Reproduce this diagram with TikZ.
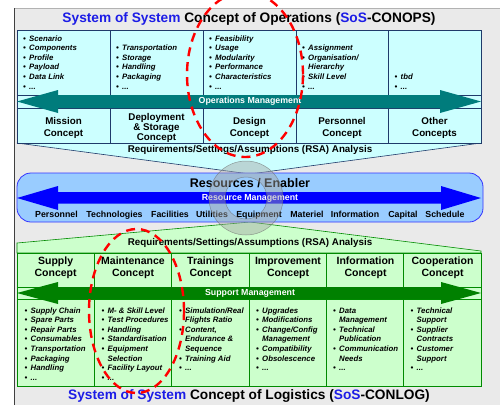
\documentclass[tikz,border=0pt]{standalone}
\usepackage{fontspec}
\setmainfont{Liberation Sans}
\usetikzlibrary{shapes.geometric}
\definecolor{bgray}{HTML}{EAEAEA}
\definecolor{cyanfill}{HTML}{CCFFFF}
\definecolor{navyline}{HTML}{1F3A6A}
\definecolor{opteal}{HTML}{007C7C}
\definecolor{resfill}{HTML}{99CCFF}
\definecolor{resblue}{HTML}{0000FF}
\definecolor{resedge}{HTML}{3333FF}
\definecolor{greenfill}{HTML}{CCFFCC}
\definecolor{greenline}{HTML}{008A00}
\definecolor{suparrow}{HTML}{008000}
\definecolor{titleblue}{HTML}{1C1CE6}
\newcommand\bb{\makebox[6pt][l]{\textbullet}}
\newcommand\cc{\hspace*{6pt}}
\tikzset{
  ttl/.style={font=\fontsize{13.7}{16}\selectfont\bfseries, inner sep=0pt},
  rsa/.style={font=\fontsize{9.8}{11}\selectfont\bfseries, inner sep=0pt},
  hdr/.style={font=\fontsize{9.8}{11.8}\selectfont\bfseries, align=center, inner sep=0pt},
  lhdr/.style={font=\fontsize{10.5}{12.3}\selectfont\bfseries, align=center, inner sep=0pt},
  bul/.style={font=\fontsize{7.8}{9.6}\selectfont\bfseries\itshape, inner sep=0pt},
  mgmt/.style={font=\fontsize{8.8}{10}\selectfont\bfseries, text=white, inner sep=0pt},
  item/.style={font=\fontsize{8.8}{10}\selectfont\bfseries, inner sep=0pt, anchor=base},
  reddash/.style={draw=red, line width=2.4pt, dash pattern=on 9pt off 6pt}
}
\begin{document}
\begin{tikzpicture}[x=1pt,y=-1pt]
\useasboundingbox (0,0) rectangle (500,405);
\fill[white] (0,0) rectangle (500,405);
\fill[bgray] (14,8) rectangle (500,405);
\draw[gray!60, line width=0.6pt] (14,8) -- (500,8);
\draw[gray!50!black, line width=0.9pt] (14,405) -- (14,8);

% titles
\node[ttl] (ttop) at (249,19) {\textcolor{titleblue}{System of System} Concept of Operations (\textcolor{titleblue}{SoS}-CONOPS)};
\node[ttl] (tbot) at (249,396) {\textcolor{titleblue}{System of System} Concept of Logistics (\textcolor{titleblue}{SoS}-CONLOG)};

% funnels
\filldraw[fill=cyanfill, draw=navyline, line width=0.6pt] (17,143) -- (250,174) -- (481,143) -- cycle;
\filldraw[fill=greenfill, draw=greenline, line width=0.6pt] (17,253) -- (17,243) -- (250,222) -- (481,251) -- (481,253) -- cycle;
\node[rsa] (rsatop) at (250,150) {Requirements/Settings/Assumptions (RSA) Analysis};
\node[rsa] (rsabot) at (250,243) {Requirements/Settings/Assumptions (RSA) Analysis};

% top table
\filldraw[fill=cyanfill, draw=navyline, line width=0.7pt] (17,30) rectangle (481,143);
\foreach \x in {110,203,296,388} \draw[navyline, line width=0.7pt] (\x,30) -- (\x,143);
\draw[navyline, line width=0.7pt] (17,95) -- (481,95) (17,108) -- (481,108);
\fill[opteal] (17,101.5) -- (58,90) -- (58,95) -- (440,95) -- (440,90) -- (481,101.5) -- (440,113) -- (440,108) -- (58,108) -- (58,113) -- cycle;
\node[mgmt] (opm) at (250,101.5) {Operations Management};

\node[bul, anchor=base west] (b1) at (23,89) {\begin{tabular}[b]{@{}l@{}}\bb Scenario\\\bb Components\\\bb Profile\\\bb Payload\\\bb Data Link\\\bb ...\end{tabular}};
\node[bul, anchor=base west] (b2) at (116,89) {\begin{tabular}[b]{@{}l@{}}\bb Transportation\\\bb Storage\\\bb Handling\\\bb Packaging\\\bb ...\end{tabular}};
\node[bul, anchor=base west] (b3) at (209,89) {\begin{tabular}[b]{@{}l@{}}\bb Feasibility\\\bb Usage\\\bb Modularity\\\bb Performance\\\bb Characteristics\\\bb ...\end{tabular}};
\node[bul, anchor=base west] (b4) at (302,89) {\begin{tabular}[b]{@{}l@{}}\bb Assignment\\\bb Organisation/\\\cc Hierarchy\\\bb Skill Level\\\bb ...\end{tabular}};
\node[bul, anchor=base west] (b5) at (394.5,89) {\begin{tabular}[b]{@{}l@{}}\bb tbd\\\bb ...\end{tabular}};

\node[hdr] (h1) at (63.5,128) {Mission\\Concept};
\node[hdr, font=\fontsize{9.8}{10}\selectfont\bfseries] (h2) at (156.5,127.5) {Deployment\\\& Storage\\Concept};
\node[hdr] (h3) at (249.5,128) {Design\\Concept};
\node[hdr] (h4) at (342,128) {Personnel\\Concept};
\node[hdr] (h5) at (434.5,128) {Other\\Concepts};

% lower table
\filldraw[fill=greenfill, draw=greenline, line width=0.7pt] (17,253) rectangle (481,386);
\foreach \x in {94.3,171.7,249,326.3,403.7} \draw[greenline, line width=0.7pt] (\x,253) -- (\x,386);
\draw[greenline, line width=0.7pt] (17,287) -- (481,287) (17,299) -- (481,299);
\fill[suparrow] (17,293) -- (58,282) -- (58,287) -- (441,287) -- (441,282) -- (481,293) -- (441,304) -- (441,299) -- (58,299) -- (58,304) -- cycle;
\node[mgmt] (spm) at (250,293) {Support Management};

\node[lhdr] (l1) at (55.6,268) {Supply\\Concept};
\node[lhdr] (l2) at (133,268) {Maintenance\\Concept};
\node[lhdr] (l3) at (210.5,268) {Trainings\\Concept};
\node[lhdr] (l4) at (288,268) {Improvement\\Concept};
\node[lhdr] (l5) at (365.5,268) {Information\\Concept};
\node[lhdr] (l6) at (442.5,268) {Cooperation\\Concept};

\node[bul, anchor=base west] (c1) at (24.5,313) {\begin{tabular}[t]{@{}l@{}}\bb Supply Chain\\\bb Spare Parts\\\bb Repair Parts\\\bb Consumables\\\bb Transportation\\\bb Packaging\\\bb Handling\\\bb ...\end{tabular}};
\node[bul, anchor=base west] (c2) at (101.5,313) {\begin{tabular}[t]{@{}l@{}}\bb M- \& Skill Level\\\bb Test Procedures\\\bb Handling\\\bb Standardisation\\\bb Equipment\\\cc Selection\\\bb Facility Layout\\\bb ...\end{tabular}};
\node[bul, anchor=base west] (c3) at (179,313) {\begin{tabular}[t]{@{}l@{}}\bb Simulation/Real\\\cc Flights Ratio\\\bb Content,\\\cc Endurance \&\\\cc Sequence\\\bb Training Aid\\\bb ...\end{tabular}};
\node[bul, anchor=base west] (c4) at (256,313) {\begin{tabular}[t]{@{}l@{}}\bb Upgrades\\\bb Modifications\\\bb Change/Config\\\cc Management\\\bb Compatibility\\\bb Obsolescence\\\bb ...\end{tabular}};
\node[bul, anchor=base west] (c5) at (333,313) {\begin{tabular}[t]{@{}l@{}}\bb Data\\\cc Management\\\bb Technical\\\cc Publication\\\bb Communication\\\cc Needs\\\bb ...\end{tabular}};
\node[bul, anchor=base west] (c6) at (410.5,313) {\begin{tabular}[t]{@{}l@{}}\bb Technical\\\cc Support\\\bb Supplier\\\cc Contracts\\\bb Customer\\\cc Support\\\bb ...\end{tabular}};

% resources bar
\filldraw[fill=resfill, draw=resedge, line width=0.8pt, rounded corners=14pt] (17,173) rectangle (483,222);
\node[font=\fontsize{12.5}{14}\selectfont\bfseries, inner sep=0pt] (res) at (250,183) {Resources / Enabler};
\fill[resblue] (17,198) -- (58,186) -- (58,192) -- (441,192) -- (441,186) -- (481,198) -- (441,210) -- (441,203.5) -- (58,203.5) -- (58,210) -- cycle;
\node[mgmt] (rsm) at (250,198) {Resource Management};
\node[item] (i1) at (56.5,217) {Personnel};
\node[item] (i2) at (114.5,217) {Technologies};
\node[item] (i3) at (170,217) {Facilities};
\node[item] (i4) at (212,217) {Utilities};
\node[item] (i5) at (259,217) {Equipment};
\node[item] (i6) at (307,217) {Materiel};
\node[item] (i7) at (355,217) {Information};
\node[item] (i8) at (403,217) {Capital};
\node[item] (i9) at (445,217) {Schedule};

% globe ring
\fill[gray!70, fill opacity=0.45, even odd rule] (246,198) circle (37pt) (246,198) circle (21pt);
\draw[gray!80!black, opacity=0.6, line width=0.5pt] (246,198) circle (37pt) (246,198) circle (21pt);

% red dashed ellipses
\begin{scope}
\clip (0,0) rectangle (500,405);
\draw[reddash] (245,74.5) ellipse [x radius=58pt, y radius=82.5pt];
\draw[reddash] (136.5,311) ellipse [x radius=47.5pt, y radius=82pt];
\end{scope}
\end{tikzpicture}
\end{document}
